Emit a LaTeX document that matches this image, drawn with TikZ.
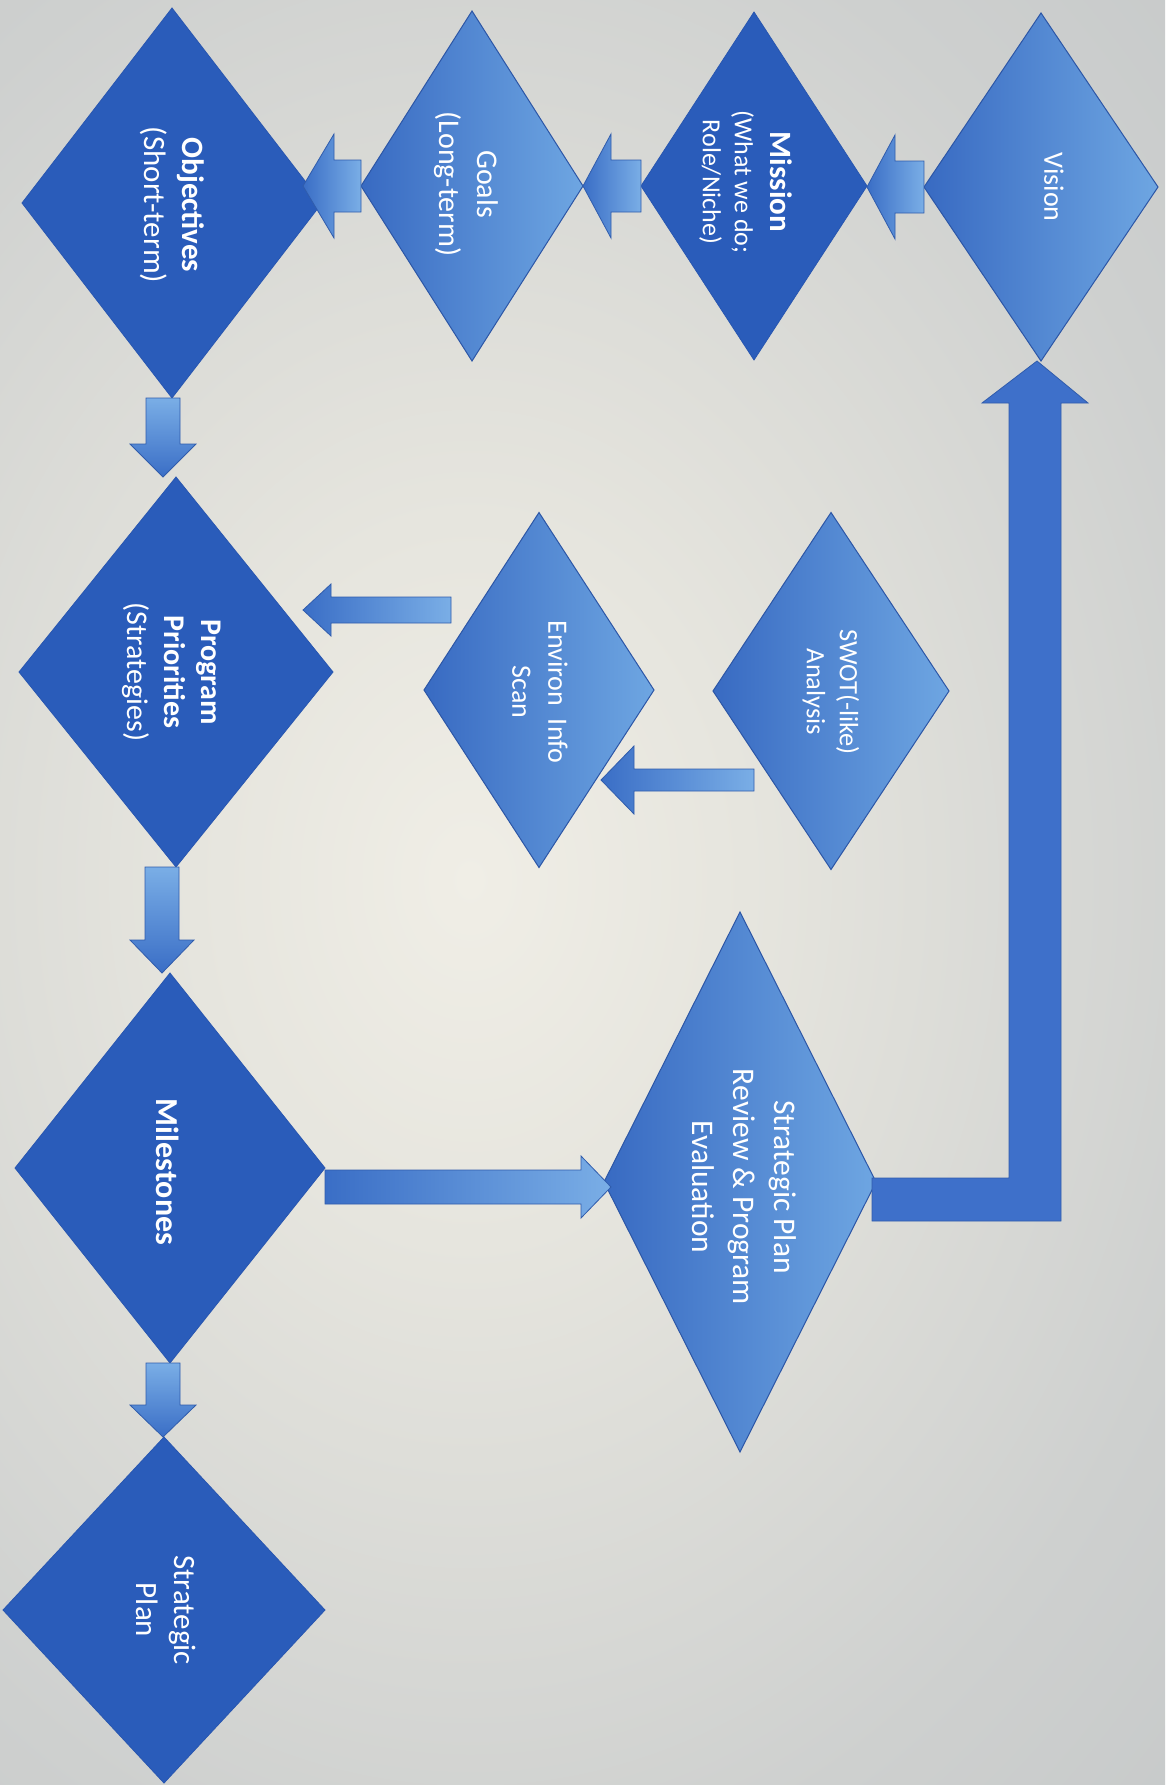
\documentclass[tikz,border=0pt]{standalone}
\usepackage{fontspec}
\setmainfont{Carlito}
\usetikzlibrary{shapes.geometric,calc}

\definecolor{dkblue}{RGB}{42,92,186}
\definecolor{dkedge}{RGB}{40,86,176}
\definecolor{ltL}{RGB}{56,106,194}
\definecolor{ltR}{RGB}{110,166,226}
\definecolor{ltedge}{RGB}{44,86,166}
\definecolor{arL}{RGB}{58,110,198}
\definecolor{arR}{RGB}{122,174,230}
\definecolor{aredge}{RGB}{48,92,172}
\definecolor{bigblue}{RGB}{62,112,202}
\definecolor{bgA}{RGB}{240,238,230}
\definecolor{bgB}{RGB}{230,229,222}
\definecolor{bgC}{RGB}{206,208,207}
\definecolor{bgD}{RGB}{188,192,194}
\definecolor{bgE}{RGB}{174,179,184}

\pgfdeclareradialshading{bgshade}{\pgfpoint{0bp}{0bp}}{color(0bp)=(bgA); color(10bp)=(bgB); color(28bp)=(bgC); color(50bp)=(bgD); color(75bp)=(bgE)}

\newcommand\arrH[6]{%
  \path[#1] ($(#2)+(0,-#4)$) -- ($(#3)+(#6,-#4)$) -- ($(#3)+(#6,-#5)$) -- (#3)
    -- ($(#3)+(#6,#5)$) -- ($(#3)+(#6,#4)$) -- ($(#2)+(0,#4)$) -- cycle;}
\newcommand\arrV[6]{%
  \path[#1] ($(#2)+(-#4,0)$) -- ($(#3)+(-#4,#6)$) -- ($(#3)+(-#5,#6)$) -- (#3)
    -- ($(#3)+(#5,#6)$) -- ($(#3)+(#4,#6)$) -- ($(#2)+(#4,0)$) -- cycle;}

\tikzset{
  dia/.style={shape=diamond, inner sep=0pt, outer sep=0pt},
  dk/.style={dia, fill=dkblue, draw=dkedge, line width=0.8pt},
  lt/.style={dia, left color=ltL, right color=ltR, draw=ltedge, line width=1pt},
  txt/.style={text=white, align=center, rotate=-90, inner sep=0pt},
  harrow/.style={left color=arL, right color=arR, draw=aredge, line width=0.8pt},
  varrow/.style={top color=arR, bottom color=arL, draw=aredge, line width=0.8pt},
  bigarrow/.style={fill=bigblue, draw=aredge, line width=0.8pt},
}

\begin{document}
\begin{tikzpicture}[x=1pt,y=-1pt]
\useasboundingbox (0,0) rectangle (1165,1785);
\begin{scope}
  \clip (0,0) rectangle (1165,1785);
  \shade[shading=bgshade] (-225,-25) rectangle (1165,1785);
\end{scope}

% diamonds
\node[lt, minimum width=234pt, minimum height=348pt] (vision) at (1041,187) {};
\node[dk, minimum width=226pt, minimum height=348pt] (mission) at (754,186) {};
\node[lt, minimum width=222pt, minimum height=350pt] (goals) at (472,186) {};
\node[dk, minimum width=300pt, minimum height=390pt] (objectives) at (172,203) {};
\node[dk, minimum width=314pt, minimum height=390pt] (program) at (176,672) {};
\node[lt, minimum width=230pt, minimum height=355pt] (environ) at (539,690) {};
\node[lt, minimum width=236pt, minimum height=357pt] (swot) at (831,691) {};
\node[lt, minimum width=272pt, minimum height=540pt] (review) at (740,1182) {};
\node[dk, minimum width=310pt, minimum height=390pt] (milestones) at (170,1168) {};
\node[dk, minimum width=322pt, minimum height=346pt] (stratplan) at (164,1610) {};

% connector end points
\coordinate (vm-tail) at (vision.west);
\coordinate (vm-tip) at (mission.east |- vm-tail);
\coordinate (mg-tail) at (mission.west);
\coordinate (mg-tip) at (goals.east |- mg-tail);
\coordinate (go-tail) at (goals.west);
\coordinate (go-tip) at ($(goals.west)+(-58,0)$);
\coordinate (op-tail) at ($(objectives.south)+(-9,0)$);
\coordinate (op-tip) at (op-tail |- program.north);
\coordinate (pm-tail) at ($(program.south)+(-14,0)$);
\coordinate (pm-tip) at (pm-tail |- milestones.north);
\coordinate (ms-tail) at ($(milestones.south)+(-7,0)$);
\coordinate (ms-tip) at (ms-tail |- stratplan.north);
\coordinate (ep-tail) at ($(environ.west)+(27,-80)$);
\coordinate (ep-tip0) at (program.east |- ep-tail);
\coordinate (ep-tip) at ($(ep-tip0)+(-30,0)$);
\coordinate (se-tail) at ($(swot.west)+(41,89)$);
\coordinate (se-tip0) at (environ.east |- se-tail);
\coordinate (se-tip) at ($(se-tip0)+(-53,0)$);
\coordinate (mr-tail) at ($(milestones.east)+(0,19)$);
\coordinate (mr-tip0) at (review.west |- mr-tail);
\coordinate (mr-tip) at ($(mr-tip0)+(7,0)$);

% block arrows
\arrH{harrow}{vm-tail}{vm-tip}{26}{52}{28}
\arrH{harrow}{mg-tail}{mg-tip}{26}{52}{28}
\arrH{harrow}{go-tail}{go-tip}{26}{52}{31}
\arrV{varrow}{op-tail}{op-tip}{17}{33}{-33}
\arrV{varrow}{pm-tail}{pm-tip}{17}{32}{-33}
\arrV{varrow}{ms-tail}{ms-tip}{17}{33}{-32}
\arrH{harrow}{ep-tail}{ep-tip}{13}{26}{28}
\arrH{harrow}{se-tail}{se-tip}{11}{34}{33}
\arrH{harrow}{mr-tail}{mr-tip}{17}{31}{-30}

% feedback arrow: review -> vision
\coordinate (lA) at ($(review.east)+(-4,-4)$);
\coordinate (lB) at ($(review.east)+(-4,39)$);
\coordinate (lT) at ($(vision.south)+(-4,0)$);
\coordinate (lAc) at (lT |- lA);
\coordinate (lBc) at (lT |- lB);
\path[bigarrow] (lA) -- ($(lAc)+(-28,0)$) -- ($(lT)+(-28,42)$) -- ($(lT)+(-55,42)$) -- (lT)
  -- ($(lT)+(51,42)$) -- ($(lT)+(24,42)$) -- ($(lBc)+(24,0)$) -- (lB) -- cycle;

% texts
\node[txt, font=\fontsize{28}{34}\selectfont] (vision-t) at (1054,187) {Vision};
\node[txt, font=\fontsize{26}{32}\selectfont] (mission-t) at (746,182)
  {{\bfseries\fontsize{31}{37}\selectfont Mission}\\[4pt](What we do;\\Role/Niche)};
\node[txt, font=\fontsize{30}{38}\selectfont] (goals-t) at (466,184) {Goals\\(Long-term)};
\node[txt, font=\fontsize{31}{38}\selectfont] (objectives-t) at (172,205)
  {{\bfseries Objectives}\\(Short-term)};
\node[txt, font=\fontsize{30}{37}\selectfont] (program-t) at (172,672)
  {{\bfseries Program}\\{\bfseries Priorities}\\(Strategies)};
\node[txt, font=\fontsize{28}{36}\selectfont] (environ-t) at (540,692) {Environ\hspace{0.45em}Info\\Scan};
\node[txt, font=\fontsize{26.5}{33}\selectfont] (swot-t) at (831,692) {SWOT(-like)\\Analysis};
\node[txt, font=\fontsize{31.5}{41}\selectfont] (review-t) at (744,1187)
  {Strategic Plan\\Review \& Program\\Evaluation};
\node[txt, font=\fontsize{32}{38}\selectfont\bfseries] (milestones-t) at (168,1172) {Milestones};
\node[txt, font=\fontsize{31}{38}\selectfont] (stratplan-t) at (166,1610) {Strategic\\Plan};
\end{tikzpicture}
\end{document}
